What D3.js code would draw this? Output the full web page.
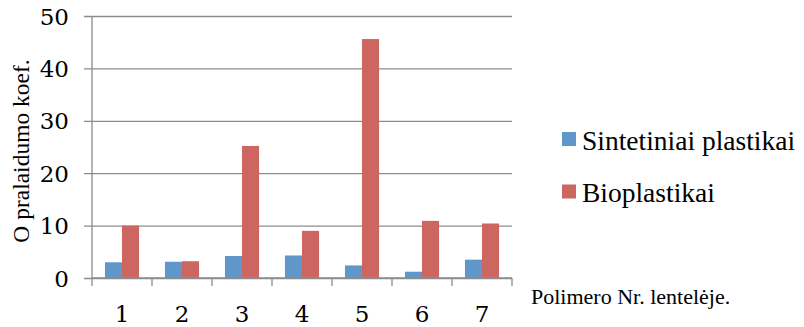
<!DOCTYPE html>
<html>
<head>
<meta charset="utf-8">
<script src="https://cdn.jsdelivr.net/npm/d3@7"></script>
<style>
  html, body { margin: 0; padding: 0; background: #fff; }
  svg { display: block; font-family: "Liberation Serif", serif; }
  .num { font-family: "DejaVu Serif", serif; }
</style>
</head>
<body>
<svg id="chart" width="804" height="327"></svg>
<script>
// Polymer numbers in the table
const categories = ["1", "2", "3", "4", "5", "6", "7"];
const seriesNames = ["Sintetiniai plastikai", "Bioplastikai"];
const sinteticValues = [3.0, 3.1, 4.2, 4.3, 2.4, 1.2, 3.5];
const bioValues = [10.0, 3.2, 25.2, 9.0, 45.6, 10.9, 10.4];
const yTicks = [0, 10, 20, 30, 40, 50];
const colors = ["#6196CB", "#CD6560"];

const svg = d3.select("#chart");
const plot = { left: 92, right: 512, top: 16, bottom: 278 };

const x = d3.scaleBand().domain(categories).range([plot.left, plot.right]).paddingInner(0).paddingOuter(0);
const inner = d3.scaleBand().domain([0, 1]).range([0, x.bandwidth()]).paddingInner(0).paddingOuter(0.76);
const y = d3.scaleLinear().domain([0, 50]).range([plot.bottom, plot.top]);

// horizontal gridlines with short outer ticks
svg.append("g")
  .attr("transform", `translate(${plot.right},0)`)
  .call(d3.axisLeft(y).tickValues(yTicks).tickSize(plot.right - plot.left + 8).tickFormat(""))
  .call(g => g.select(".domain").remove())
  .call(g => g.selectAll("line").attr("stroke", "#8c8c8c").attr("stroke-width", 1.3));

// y tick labels
svg.append("g").selectAll("text").data(yTicks).join("text")
  .attr("class", "num")
  .attr("x", 69).attr("y", d => y(d) + 8.5)
  .attr("text-anchor", "end")
  .attr("font-size", 23)
  .attr("fill", "#000")
  .text(d => d);

// bars
const values = [sinteticValues, bioValues];
const groups = svg.append("g").selectAll("g").data(categories).join("g")
  .attr("transform", d => `translate(${x(d)},0)`);
groups.selectAll("rect").data((c, i) => values.map((v, s) => ({ s, v: v[i] }))).join("rect")
  .attr("x", d => inner(d.s))
  .attr("width", inner.bandwidth())
  .attr("y", d => y(d.v))
  .attr("height", d => y(0) - y(d.v))
  .attr("fill", d => colors[d.s]);

// y axis line
svg.append("line")
  .attr("x1", plot.left).attr("x2", plot.left)
  .attr("y1", plot.top).attr("y2", plot.bottom)
  .attr("stroke", "#8c8c8c").attr("stroke-width", 1.3);

// x axis with ticks between categories
const xAxisG = svg.append("g");
xAxisG.append("line")
  .attr("x1", plot.left).attr("x2", plot.right)
  .attr("y1", plot.bottom).attr("y2", plot.bottom)
  .attr("stroke", "#8c8c8c").attr("stroke-width", 1.3);
const boundaries = categories.map(c => x(c)).concat([plot.right]);
xAxisG.selectAll("line.tick").data(boundaries).join("line")
  .attr("class", "tick")
  .attr("x1", d => d).attr("x2", d => d)
  .attr("y1", plot.bottom).attr("y2", plot.bottom + 8)
  .attr("stroke", "#8c8c8c").attr("stroke-width", 1.3);
xAxisG.selectAll("text").data(categories).join("text")
  .attr("class", "num")
  .attr("x", d => x(d) + x.bandwidth() / 2)
  .attr("y", 322)
  .attr("text-anchor", "middle")
  .attr("font-size", 23)
  .text(d => d);

// axis titles
svg.append("text")
  .attr("transform", "translate(29,151) rotate(-90)")
  .attr("text-anchor", "middle")
  .attr("font-size", 23.5)
  .text("O pralaidumo koef.");
svg.append("text")
  .attr("x", 531).attr("y", 304)
  .attr("font-size", 22)
  .text("Polimero Nr. lentelėje.");

// legend
const legend = svg.append("g").selectAll("g").data(seriesNames).join("g")
  .attr("transform", (d, i) => `translate(562,${132 + i * 52.5})`);
legend.append("rect").attr("width", 14).attr("height", 14).attr("fill", (d, i) => colors[i]);
legend.append("text").attr("x", 20).attr("y", 17.5).attr("font-size", 27.5).text(d => d);
</script>
</body>
</html>
